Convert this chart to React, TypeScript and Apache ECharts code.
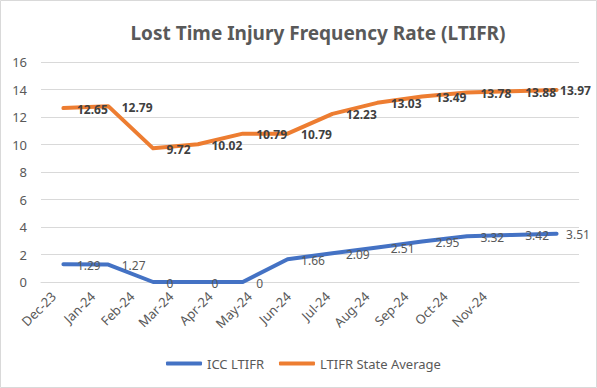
import React, { useEffect, useRef } from "react";
import * as echarts from "echarts";

const categories = ["Dec-23", "Jan-24", "Feb-24", "Mar-24", "Apr-24", "May-24", "Jun-24", "Jul-24", "Aug-24", "Sep-24", "Oct-24", "Nov-24"];
const iccLtifr = [1.29, 1.27, 0, 0, 0, 1.66, 2.09, 2.51, 2.95, 3.32, 3.42, 3.51];
const stateAverage = [12.65, 12.79, 9.72, 10.02, 10.79, 10.79, 12.23, 13.03, 13.49, 13.78, 13.88, 13.97];
const seriesNames = ["ICC LTIFR", "LTIFR State Average"];
const titleText = "Lost Time Injury Frequency Rate (LTIFR)";

const FONT = "'Noto Sans', 'Open Sans', sans-serif";

function withLastLabelDistance(values: number[], distance: number) {
  return values.map((v, i) =>
    i === values.length - 1 ? { value: v, label: { distance } } : v
  );
}

export default function App() {
  const ref = useRef<HTMLDivElement>(null);
  useEffect(() => {
    document.body.style.margin = "0";
    if (!ref.current) return;
    const chart = echarts.init(ref.current, null, { renderer: "svg" });
    chart.setOption({
      animation: false,
      backgroundColor: "#ffffff",
      textStyle: { fontFamily: FONT },
      title: {
        text: titleText,
        left: 313,
        textAlign: "center",
        top: 18,
        textStyle: { fontFamily: FONT, fontSize: 19, fontWeight: "bold", color: "#595959" },
      },
      graphic: [
        {
          type: "rect",
          shape: { x: 0.5, y: 0.5, width: 596, height: 387 },
          style: { fill: "none", stroke: "#d9d9d9", lineWidth: 1 },
          silent: true,
        },
      ],
      legend: {
        bottom: 13,
        left: 161,
        itemWidth: 36,
        itemHeight: 4,
        itemGap: 15,
        icon: "roundRect",
        textStyle: { fontFamily: FONT, fontSize: 13, color: "#595959" },
        data: seriesNames,
      },
      grid: [
        { left: 41, right: 18, top: 62, bottom: 106, containLabel: false },
        { left: 34, width: 470, top: 62, bottom: 106, containLabel: false },
      ],
      xAxis: [
        {
          gridIndex: 0,
          type: "category",
          data: categories,
          boundaryGap: true,
          axisLine: { show: true, lineStyle: { color: "#d9d9d9" } },
          axisTick: { show: false },
          axisLabel: { show: false },
        },
        {
          gridIndex: 1,
          type: "category",
          data: categories,
          boundaryGap: true,
          axisLine: { show: false },
          axisTick: { show: false },
          axisLabel: { rotate: 45, margin: 12, fontFamily: FONT, fontSize: 13, color: "#595959", interval: 0 },
        },
      ],
      yAxis: [
        {
          gridIndex: 0,
          type: "value",
          min: 0,
          max: 16,
          interval: 2,
          axisLine: { show: false },
          axisTick: { show: false },
          axisLabel: { margin: 14, fontFamily: FONT, fontSize: 13, color: "#595959" },
          splitLine: { lineStyle: { color: "#d9d9d9" } },
        },
        {
          gridIndex: 1,
          type: "value",
          min: 0,
          max: 16,
          show: false,
          splitLine: { show: false },
        },
      ],
      series: [
        {
          name: seriesNames[0],
          type: "line",
          xAxisIndex: 0,
          yAxisIndex: 0,
          data: withLastLabelDistance(iccLtifr, 9),
          symbol: "circle",
          symbolSize: 1,
          showSymbol: true,
          color: "#4472C4",
          lineStyle: { width: 4, color: "#4472C4", cap: "round", join: "round" },
          label: {
            show: true,
            position: "right",
            distance: 13,
            offset: [0, 1],
            fontFamily: FONT,
            fontSize: 12,
            color: "#595959",
          },
        },
        {
          name: seriesNames[1],
          type: "line",
          xAxisIndex: 0,
          yAxisIndex: 0,
          data: withLastLabelDistance(stateAverage, 3),
          symbol: "circle",
          symbolSize: 1,
          showSymbol: true,
          color: "#ED7D31",
          lineStyle: { width: 4, color: "#ED7D31", cap: "round", join: "round" },
          label: {
            show: true,
            position: "right",
            distance: 13,
            offset: [0, 1],
            fontFamily: FONT,
            fontSize: 12,
            fontWeight: "bold",
            color: "#404040",
          },
        },
      ],
    });
    return () => chart.dispose();
  }, []);
  return <div ref={ref} style={{ width: 597, height: 388 }} />;
}
